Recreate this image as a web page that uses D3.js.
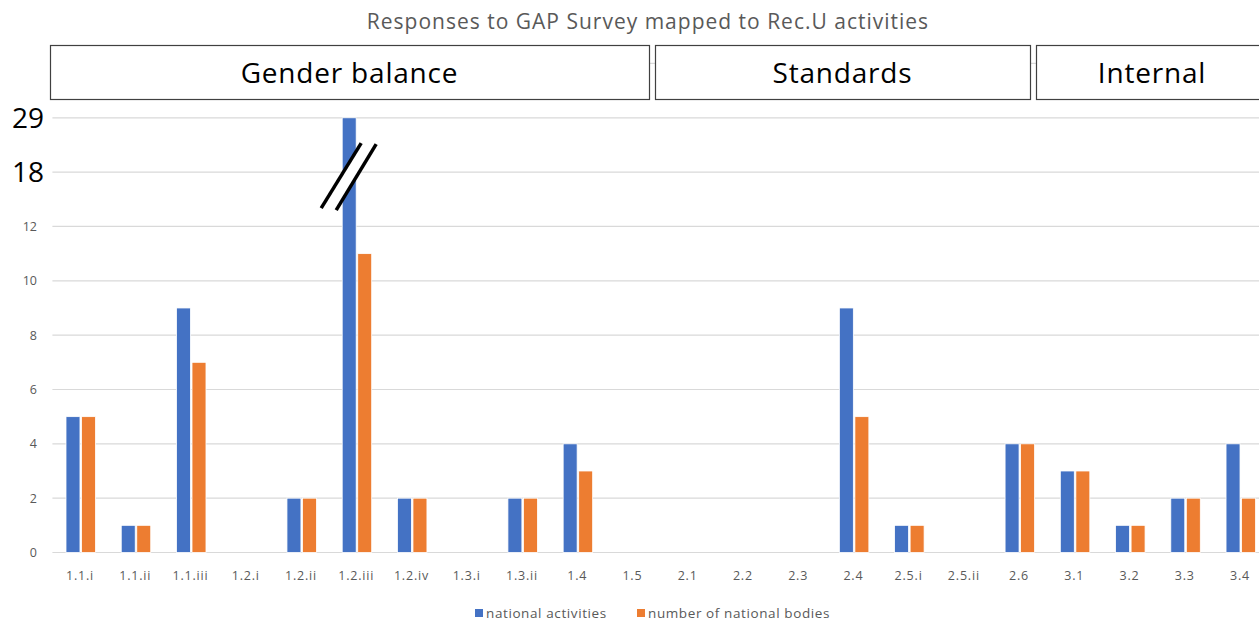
<!DOCTYPE html>
<html><head><meta charset="utf-8">
<script src="https://cdn.jsdelivr.net/npm/d3@7"></script>
<style>html,body{margin:0;padding:0;background:#fff;overflow:hidden}svg{display:block}</style>
</head><body>
<svg id="chart" width="1259" height="621"></svg>
<script>
const categories = ["1.1.i","1.1.ii","1.1.iii","1.2.i","1.2.ii","1.2.iii","1.2.iv","1.3.i","1.3.ii","1.4","1.5","2.1","2.2","2.3","2.4","2.5.i","2.5.ii","2.6","3.1","3.2","3.3","3.4"];
const nationalActivities = [5,1,9,0,2,29,2,0,2,4,0,0,0,0,9,1,0,4,3,1,2,4];
const nationalBodies    = [5,1,7,0,2,11,2,0,2,3,0,0,0,0,5,1,0,4,3,1,2,2];
const seriesNames = ["national activities","number of national bodies"];
const seriesColors = ["#4472C4","#ED7D31"];
const yTicksSmall = [0,2,4,6,8,10,12];
const yTicksBreak = [18,29];
const groups = [
  {name:"Gender balance", from:"1.1.i", to:"1.5"},
  {name:"Standards", from:"2.1", to:"2.6"},
  {name:"Internal", from:"3.1", to:"3.4"}
];
const title = "Responses to GAP Survey mapped to Rec.U activities";
const FONT = "'Open Sans', 'Noto Sans', sans-serif";

const svg = d3.select("#chart");
const base = 552.5, unit = 27.17;
const plotLeft = 52.4, step = 55.24;

const x = d3.scaleBand().domain(categories).range([plotLeft, plotLeft + step*categories.length]).padding(0);
const xSub = d3.scaleBand().domain(seriesNames).range([13.6, 43.1]).paddingInner(0.1);
// broken (polylinear) scale: 0..12 linear, 12..18 compressed, 18..29 compressed
const y = d3.scaleLinear().domain([0,12,18,29]).range([base, base-12*unit, base-14*unit, base-16*unit]);
const plotTop = base - 18*unit;

// gridlines
const gridVals = yTicksSmall.concat(yTicksBreak);
svg.append("g").selectAll("line").data(gridVals).join("line")
  .attr("x1", plotLeft).attr("x2", 1259)
  .attr("y1", d=>y(d)).attr("y2", d=>y(d))
  .attr("stroke", "#D9D9D9").attr("stroke-width", 1.2);
svg.append("line").attr("x1", plotLeft).attr("x2", 1259).attr("y1", plotTop).attr("y2", plotTop)
  .attr("stroke", "#D9D9D9").attr("stroke-width", 1.2);

// bars
const rows = categories.map((c,i)=>({cat:c, vals:[nationalActivities[i], nationalBodies[i]]}));
const g = svg.append("g");
rows.forEach(r=>{
  r.vals.forEach((v,si)=>{
    if (v<=0) return;
    g.append("rect")
      .attr("x", x(r.cat) + xSub(seriesNames[si]))
      .attr("width", xSub.bandwidth())
      .attr("y", y(v))
      .attr("height", y(0)-y(v))
      .attr("fill", seriesColors[si])
      .attr("stroke", "#fff").attr("stroke-width", 0.8);
  });
});

// break marks on the tall bar
const breakCat = categories[nationalActivities.indexOf(d3.max(nationalActivities))];
const bcx = x(breakCat) + xSub(seriesNames[0]) + xSub.bandwidth()/2;
const by = y(18);
const l1 = [[bcx-28, by+36],[bcx+12, by-29]];
const l2 = [[bcx-13, by+38],[bcx+27, by-28]];
svg.append("polygon")
  .attr("points", [l1[0], l1[1], l2[1], l2[0]].map(p=>p.join(",")).join(" "))
  .attr("fill", "#fff");
[l1,l2].forEach(l=>{
  svg.append("line").attr("x1", l[0][0]).attr("y1", l[0][1]).attr("x2", l[1][0]).attr("y2", l[1][1])
    .attr("stroke", "#000").attr("stroke-width", 3.5);
});

// y tick labels
svg.append("g").selectAll("text").data(yTicksSmall).join("text")
  .attr("x", 37).attr("y", d=>y(d)).attr("dy", "0.35em")
  .attr("text-anchor", "end").attr("font-family", FONT).attr("font-size", 12.5)
  .attr("fill", "#595959").text(d=>d);
svg.append("g").selectAll("text").data(yTicksBreak).join("text")
  .attr("x", 44).attr("y", d=>y(d)).attr("dy", "0.36em")
  .attr("text-anchor", "end").attr("font-family", FONT).attr("font-size", 28)
  .attr("fill", "#000").text(d=>d);

// x labels
svg.append("g").selectAll("text").data(categories).join("text")
  .attr("x", d=>x(d)+x.bandwidth()/2).attr("y", 576).attr("dy", "0.35em")
  .attr("text-anchor", "middle").attr("font-family", FONT).attr("font-size", 12.5)
  .attr("letter-spacing", 0.8)
  .attr("fill", "#595959").text(d=>d);

// group boxes
const boxEdges = [[50,649],[655,1030],[1036,1290]];
groups.forEach((gr,i)=>{
  const [x0,x1] = boxEdges[i];
  svg.append("rect").attr("x", x0+0.5).attr("y", 45.5).attr("width", x1-x0).attr("height", 54)
    .attr("fill", "#fff").attr("stroke", "#404040").attr("stroke-width", 1.2);
  const cx = i===2 ? 1152 : (x0+x1)/2;
  svg.append("text").attr("x", cx).attr("y", 73).attr("dy", "0.35em")
    .attr("text-anchor", "middle").attr("font-family", FONT).attr("font-size", 28)
    .attr("letter-spacing", 0.8)
    .attr("fill", "#000").text(gr.name);
});

// title
svg.append("text").attr("x", 648).attr("y", 22).attr("dy", "0.35em")
  .attr("text-anchor", "middle").attr("font-family", FONT).attr("font-size", 21)
  .attr("letter-spacing", 1)
  .attr("fill", "#595959").text(title);

// legend
const legX = [475, 637];
seriesNames.forEach((s,i)=>{
  svg.append("rect").attr("x", legX[i]).attr("y", 609).attr("width", 8).attr("height", 8).attr("fill", seriesColors[i]);
  svg.append("text").attr("x", legX[i]+11).attr("y", 613).attr("dy", "0.35em")
    .attr("font-family", FONT).attr("font-size", 13.5).attr("letter-spacing", 0.6)
    .attr("fill", "#595959").text(s);
});
</script>
</body></html>
